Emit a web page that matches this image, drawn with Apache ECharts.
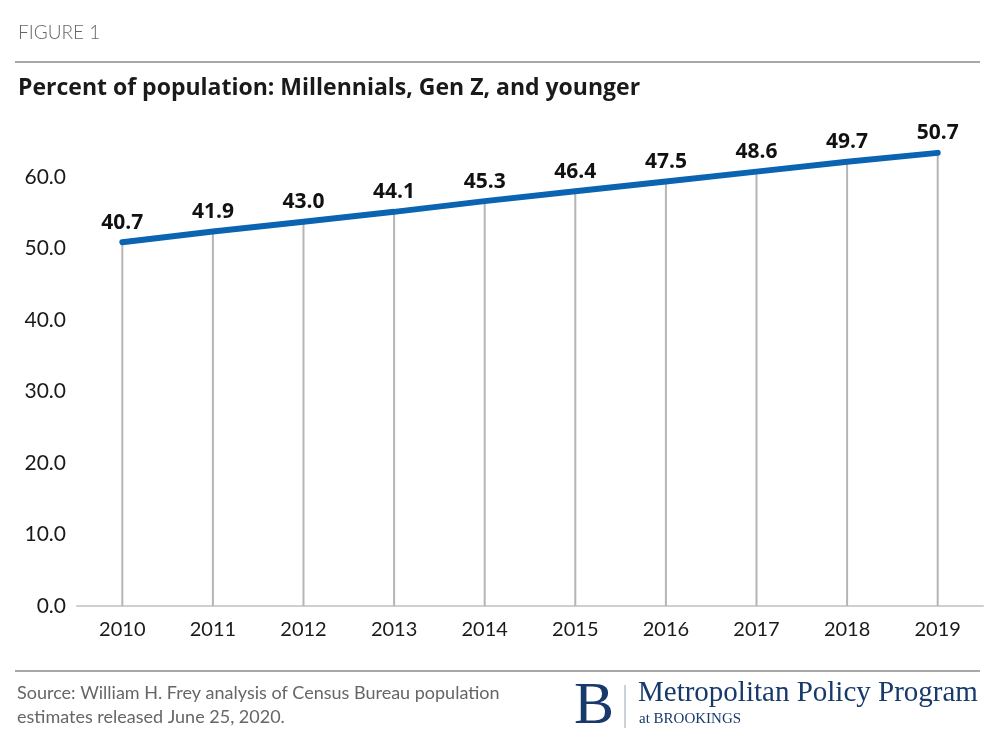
<!DOCTYPE html>
<html>
<head>
<meta charset="utf-8">
<script src="https://cdn.jsdelivr.net/npm/echarts@6/dist/echarts.min.js"></script>
<style>
html,body{margin:0;padding:0;background:#fff;}
#chart{width:1000px;height:750px;}
</style>
</head>
<body>
<div id="chart"></div>
<script>
var years = ['2010','2011','2012','2013','2014','2015','2016','2017','2018','2019'];
var shares = [40.7, 41.9, 43.0, 44.1, 45.3, 46.4, 47.5, 48.6, 49.7, 50.7];
var yTickLabels = ['0.0','10.0','20.0','30.0','40.0','50.0','60.0'];

var chart = echarts.init(document.getElementById('chart'));
var baseFont = 'Lato, "Open Sans", sans-serif';
chart.setOption({
  backgroundColor: '#fff',
  animation: false,
  grid: {left: 77, right: 17, top: 105.5, bottom: 144},
  xAxis: {
    type: 'category',
    data: years,
    boundaryGap: true,
    axisLine: {show: true, lineStyle: {color: '#cfcfcf', width: 2}},
    axisTick: {show: false},
    axisLabel: {color: '#1a1a1a', fontSize: 20, fontFamily: baseFont, margin: 14}
  },
  yAxis: {
    type: 'value',
    min: 0,
    max: 56,
    interval: 8,
    axisLine: {show: false},
    axisTick: {show: false},
    splitLine: {show: false},
    axisLabel: {
      color: '#1a1a1a', fontSize: 21, fontFamily: baseFont, margin: 11,
      formatter: function (v) { return yTickLabels[Math.round(v / 8)] || ''; }
    }
  },
  series: [
    {
      type: 'bar',
      data: shares,
      barWidth: 2,
      itemStyle: {color: '#b5b5b5'},
      silent: true,
      z: 1,
      label: {
        show: true, position: 'top', distance: 9,
        color: '#111', fontSize: 21, fontWeight: 'bold', fontFamily: '"Open Sans", Lato, sans-serif',
        formatter: function (p) { return p.value.toFixed(1); }
      }
    },
    {
      type: 'line',
      data: shares,
      symbol: 'none',
      lineStyle: {color: '#0b64b2', width: 6, cap: 'round'},
      z: 3
    }
  ],
  graphic: [
    {type: 'text', left: 18, top: 23, style: {text: 'FIGURE 1', fill: '#666', font: '300 19px Lato, sans-serif'}},
    {type: 'line', shape: {x1: 15, y1: 62, x2: 980, y2: 62}, style: {stroke: '#a8a8a8', lineWidth: 2}},
    {type: 'text', left: 18, top: 77, style: {text: 'Percent of population: Millennials, Gen Z, and younger', fill: '#1a1a1a', font: 'bold 23px "Open Sans", sans-serif'}},
    {type: 'line', shape: {x1: 15, y1: 671, x2: 980, y2: 671}, style: {stroke: '#a8a8a8', lineWidth: 2}},
    {type: 'text', left: 17, top: 681, style: {text: 'Source: William H. Frey analysis of Census Bureau population\nestimates released June 25, 2020.', fill: '#666', font: '18px Lato, sans-serif', lineHeight: 24}},
    {type: 'text', left: 574, top: 677, style: {text: 'B', fill: '#173a6b', font: '60px "Liberation Serif", serif'}},
    {type: 'line', shape: {x1: 625, y1: 685, x2: 625, y2: 728}, style: {stroke: '#9aa5b5', lineWidth: 1}},
    {type: 'text', left: 638, top: 679, style: {text: 'Metropolitan Policy Program', fill: '#173a6b', font: '29px "Liberation Serif", serif'}},
    {type: 'text', left: 639, top: 712, style: {text: 'at BROOKINGS', fill: '#173a6b', font: '15px "Liberation Serif", serif'}}
  ]
});
</script>
</body>
</html>
